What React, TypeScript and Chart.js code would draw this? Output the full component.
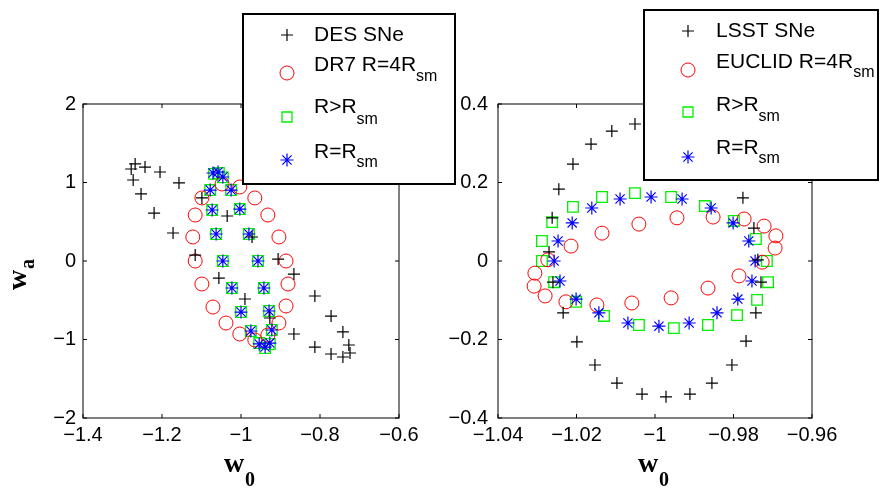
import React, { useEffect, useRef } from 'react';
import { Chart, registerables } from 'chart.js';

Chart.register(...registerables);

// ---------- Left panel: DES SNe / DR7 ----------
const desW0 = [-1.278, -1.268, -1.243, -1.205, -1.273, -1.157, -1.253, -1.22, -1.172, -1.099, -1.035, -0.972, -1.116, -0.906, -1.056, -0.866, -0.99, -0.927, -0.866, -0.813, -0.772, -0.742, -0.813, -0.727, -0.772, -0.742, -0.724];
const desWa = [1.172, 1.236, 1.197, 1.134, 1.032, 0.994, 0.854, 0.611, 0.357, 0.803, 0.573, 0.306, 0.076, 0.025, -0.217, -0.166, -0.484, -0.726, -0.93, -0.446, -0.701, -0.904, -1.096, -1.07, -1.185, -1.223, -1.172];

const dr7W0 = [-1.099, -1.048, -1.003, -0.965, -1.116, -0.932, -1.122, -0.904, -1.116, -0.886, -1.099, -0.881, -1.071, -0.886, -1.038, -0.904, -1.003, -0.932, -0.965];
const dr7Wa = [0.803, 0.981, 0.943, 0.803, 0.586, 0.586, 0.306, 0.306, 0, 0, -0.293, -0.293, -0.586, -0.573, -0.79, -0.79, -0.93, -0.943, -1.006];

const dr7GtW0 = [-1.068, -1.056, -1.046, -1.078, -1.025, -1.073, -1.003, -1.063, -0.98, -1.046, -0.957, -1.023, -0.942, -1.0, -0.929, -0.975, -0.922, -0.954, -0.939, -0.927];
const dr7GtWa = [1.11, 1.121, 1.065, 0.904, 0.904, 0.65, 0.662, 0.344, 0.344, 0, 0, -0.344, -0.344, -0.65, -0.637, -0.892, -0.879, -1.045, -1.108, -1.057];

const dr7EqW0 = [-1.071, -1.058, -1.046, -1.078, -1.025, -1.073, -1.003, -1.063, -0.98, -1.046, -0.957, -1.023, -0.942, -1.0, -0.929, -0.975, -0.922, -0.954, -0.939, -0.927];
const dr7EqWa = [1.121, 1.134, 1.07, 0.904, 0.904, 0.65, 0.662, 0.344, 0.344, 0, 0, -0.344, -0.344, -0.65, -0.637, -0.892, -0.879, -1.057, -1.096, -1.045];

// ---------- Right panel: LSST SNe / EUCLID ----------
const lsstW0 = [-1.027, -1.0262, -1.0245, -1.0209, -1.0163, -1.011, -1.0051, -0.9987, -0.9924, -0.9868, -0.9819, -0.9776, -0.9748, -0.9738, -0.973, -0.9743, -0.9768, -0.9804, -0.9855, -0.9911, -0.9972, -1.0033, -1.0097, -1.0153, -1.0199, -1.0234, -1.026];
const lsstWa = [0.023, 0.11, 0.183, 0.247, 0.298, 0.331, 0.349, 0.354, 0.339, 0.308, 0.268, 0.161, 0.084, 0.003, -0.054, -0.132, -0.204, -0.265, -0.311, -0.339, -0.346, -0.339, -0.311, -0.265, -0.206, -0.132, -0.054];

const euclidW0 = [-1.0308, -1.0306, -1.0273, -1.0214, -1.0135, -1.0041, -0.9944, -0.9852, -0.9773, -0.9722, -0.9692, -0.9694, -0.9727, -0.9786, -0.9865, -0.9959, -1.0059, -1.0148, -1.0227, -1.028];
const euclidWa = [-0.064, -0.031, 0.003, 0.038, 0.071, 0.094, 0.11, 0.112, 0.107, 0.089, 0.064, 0.033, -0.003, -0.038, -0.069, -0.094, -0.107, -0.112, -0.104, -0.089];

const euGtW0 = [-1.0288, -1.0288, -1.0262, -1.0209, -1.0135, -1.0051, -0.9959, -0.9873, -0.9799, -0.9743, -0.9715, -0.9712, -0.974, -0.9791, -0.9865, -0.9952, -1.0041, -1.013, -1.0201, -1.0257];
const euGtWa = [0, 0.051, 0.099, 0.138, 0.163, 0.173, 0.163, 0.14, 0.102, 0.056, 0, -0.054, -0.099, -0.138, -0.163, -0.171, -0.163, -0.14, -0.104, -0.054];

const euEqW0 = [-1.0257, -1.0247, -1.0211, -1.0161, -1.0089, -1.001, -0.9931, -0.9857, -0.9801, -0.9761, -0.9745, -0.9753, -0.9789, -0.9842, -0.9913, -0.999, -1.0069, -1.0143, -1.0201, -1.0242];
const euEqWa = [0, 0.051, 0.097, 0.135, 0.158, 0.163, 0.158, 0.135, 0.097, 0.051, 0, -0.051, -0.097, -0.132, -0.158, -0.166, -0.158, -0.132, -0.097, -0.051];

// ---------- Ticks ----------
const leftXTicks = [-1.4, -1.2, -1, -0.8, -0.6];
const leftXTickLabels = ['\u22121.4', '\u22121.2', '\u22121', '\u22120.8', '\u22120.6'];
const leftYTicks = [-2, -1, 0, 1, 2];
const leftYTickLabels = ['\u22122', '\u22121', '0', '1', '2'];

const rightXTicks = [-1.04, -1.02, -1, -0.98, -0.96];
const rightXTickLabels = ['\u22121.04', '\u22121.02', '\u22121', '\u22120.98', '\u22120.96'];
const rightYTicks = [-0.4, -0.2, 0, 0.2, 0.4];
const rightYTickLabels = ['\u22120.4', '\u22120.2', '0', '0.2', '0.4'];

// ---------- Legend labels ----------
const leftLegendLabels = [
  { text: 'DES SNe', sub: '' },
  { text: 'DR7 R=4R', sub: 'sm' },
  { text: 'R>R', sub: 'sm' },
  { text: 'R=R', sub: 'sm' },
];
const rightLegendLabels = [
  { text: 'LSST SNe', sub: '' },
  { text: 'EUCLID R=4R', sub: 'sm' },
  { text: 'R>R', sub: 'sm' },
  { text: 'R=R', sub: 'sm' },
];

const SANS = '"Liberation Sans", Arial, Helvetica, sans-serif';
const SERIF = '"Liberation Serif", "Times New Roman", serif';
const RED = '#ff0000';
const GREEN = '#00f000';
const BLUE = '#0000ff';

const zip = (xs: number[], ys: number[]) => xs.map((x, i) => ({ x, y: ys[i] }));

type Kind = 'plus' | 'circle' | 'square' | 'star';
const markerKinds: Kind[] = ['plus', 'circle', 'square', 'star'];

function drawMarker(ctx: CanvasRenderingContext2D, kind: Kind, x: number, y: number) {
  ctx.save();
  ctx.lineWidth = 1.2;
  ctx.beginPath();
  if (kind === 'plus') {
    ctx.strokeStyle = '#000';
    ctx.moveTo(x - 6, y); ctx.lineTo(x + 6, y);
    ctx.moveTo(x, y - 6); ctx.lineTo(x, y + 6);
  } else if (kind === 'circle') {
    ctx.strokeStyle = RED;
    ctx.lineWidth = 1;
    ctx.arc(x, y, 7, 0, Math.PI * 2);
  } else if (kind === 'square') {
    ctx.strokeStyle = GREEN;
    ctx.lineWidth = 1.3;
    ctx.rect(x - 5, y - 5, 10, 10);
  } else {
    ctx.strokeStyle = BLUE;
    for (let k = 0; k < 4; k++) {
      const a = (k * Math.PI) / 4;
      const dx = Math.cos(a) * 6.5, dy = Math.sin(a) * 6.5;
      ctx.moveTo(x - dx, y - dy); ctx.lineTo(x + dx, y + dy);
    }
  }
  ctx.stroke();
  ctx.restore();
}

interface PanelSpec {
  xMin: number; xMax: number; yMin: number; yMax: number;
  xTicks: number[]; xLabels: string[]; yTicks: number[]; yLabels: string[];
  yAxisWidth: number; padRight: number; yPad: number;
  sets: { w0: number[]; wa: number[] }[];
  legend: { text: string; sub: string }[];
  box: { x: number; y: number; w: number; h: number; mx: number; tx: number; my: number[]; ty: number[]; sy: number[] };
  yTitle: boolean;
}

function makeConfig(spec: PanelSpec): any {
  const styles = [
    { pointStyle: 'cross', pointRadius: 6, borderColor: '#000', borderWidth: 1.2, order: 0 },
    { pointStyle: 'circle', pointRadius: 7, borderColor: RED, borderWidth: 1, order: 2 },
    { pointStyle: 'rect', pointRadius: 7.5, borderColor: GREEN, borderWidth: 1.3, order: 3 },
    { pointStyle: 'star', pointRadius: 6.5, borderColor: BLUE, borderWidth: 1.2, order: 1 },
  ];
  const datasets = spec.sets.map((s, i) => ({
    label: spec.legend[i].text + spec.legend[i].sub,
    data: zip(s.w0, s.wa),
    showLine: false,
    backgroundColor: 'rgba(0,0,0,0)',
    pointBackgroundColor: 'rgba(0,0,0,0)',
    pointBorderColor: styles[i].borderColor,
    pointBorderWidth: styles[i].borderWidth,
    ...styles[i],
    clip: false,
  }));

  const plugin = {
    id: 'matlabFrame',
    beforeDatasetsDraw(chart: any) {
      const { ctx, chartArea: a, scales } = chart;
      const xs = scales.x, ys = scales.y;
      ctx.save();
      ctx.strokeStyle = '#000';
      ctx.lineWidth = 1;
      ctx.strokeRect(a.left, a.top, a.right - a.left, a.bottom - a.top);
      ctx.beginPath();
      for (const v of spec.xTicks) {
        const px = xs.getPixelForValue(v);
        ctx.moveTo(px, a.bottom); ctx.lineTo(px, a.bottom - 4);
        ctx.moveTo(px, a.top); ctx.lineTo(px, a.top + 4);
      }
      for (const v of spec.yTicks) {
        const py = ys.getPixelForValue(v);
        ctx.moveTo(a.left, py); ctx.lineTo(a.left + 4, py);
        ctx.moveTo(a.right, py); ctx.lineTo(a.right - 4, py);
      }
      ctx.stroke();
      ctx.restore();
    },
    afterDraw(chart: any) {
      const { ctx, chartArea: a } = chart;
      const cx = (a.left + a.right) / 2;
      const cy = (a.top + a.bottom) / 2;
      ctx.save();
      ctx.fillStyle = '#000';
      // x title w_0
      ctx.textAlign = 'left';
      ctx.textBaseline = 'alphabetic';
      ctx.font = `bold 28px ${SERIF}`;
      ctx.fillText('w', cx - 17, 472);
      ctx.font = `bold 20px ${SERIF}`;
      ctx.fillText('0', cx + 4, 486);
      // y title w_a
      if (spec.yTitle) {
        ctx.save();
        ctx.translate(26, cy + 29);
        ctx.rotate(-Math.PI / 2);
        ctx.font = `bold 28px ${SERIF}`;
        ctx.fillText('w', 0, 0);
        ctx.font = `bold 20px ${SERIF}`;
        ctx.fillText('a', 21, 8);
        ctx.restore();
      }
      // legend
      const b = spec.box;
      ctx.fillStyle = '#fff';
      ctx.fillRect(b.x, b.y, b.w, b.h);
      ctx.strokeStyle = '#000';
      ctx.lineWidth = 2;
      ctx.strokeRect(b.x, b.y, b.w, b.h);
      spec.legend.forEach((item, i) => {
        drawMarker(ctx, markerKinds[i], b.mx, b.my[i]);
        ctx.fillStyle = '#000';
        ctx.textAlign = 'left';
        ctx.textBaseline = 'middle';
        ctx.font = `21px ${SANS}`;
        ctx.fillText(item.text, b.tx, b.ty[i]);
        if (item.sub) {
          const w = ctx.measureText(item.text).width;
          ctx.font = `16px ${SANS}`;
          ctx.fillText(item.sub, b.tx + w, b.sy[i]);
        }
      });
      ctx.restore();
    },
  };

  const tickFont = { family: SANS, size: 20 };
  return {
    type: 'scatter',
    data: { datasets },
    options: {
      responsive: false,
      animation: false,
      events: [],
      layout: { padding: { left: 0, right: spec.padRight, top: 104, bottom: 0 } },
      plugins: { legend: { display: false }, tooltip: { enabled: false } },
      scales: {
        x: {
          type: 'linear',
          min: spec.xMin,
          max: spec.xMax,
          afterBuildTicks: (s: any) => { s.ticks = spec.xTicks.map((v) => ({ value: v })); },
          afterFit: (s: any) => { s.height = 71; },
          ticks: {
            callback: (_v: any, i: number) => spec.xLabels[i],
            font: tickFont, color: '#000', padding: 5, maxRotation: 0, autoSkip: false,
          },
          grid: { display: false, drawTicks: false, tickLength: 0 },
          border: { display: false },
        },
        y: {
          type: 'linear',
          min: spec.yMin,
          max: spec.yMax,
          afterBuildTicks: (s: any) => { s.ticks = spec.yTicks.map((v) => ({ value: v })); },
          afterFit: (s: any) => { s.width = spec.yAxisWidth; },
          ticks: {
            callback: (_v: any, i: number) => spec.yLabels[i],
            font: tickFont, color: '#000', padding: spec.yPad, autoSkip: false,
          },
          grid: { display: false, drawTicks: false, tickLength: 0 },
          border: { display: false },
        },
      },
    },
    plugins: [plugin],
  };
}

const leftSpec: PanelSpec = {
  xMin: -1.4, xMax: -0.6, yMin: -2, yMax: 2,
  xTicks: leftXTicks, xLabels: leftXTickLabels, yTicks: leftYTicks, yLabels: leftYTickLabels,
  yAxisWidth: 83, padRight: 71, yPad: 7,
  sets: [
    { w0: desW0, wa: desWa },
    { w0: dr7W0, wa: dr7Wa },
    { w0: dr7GtW0, wa: dr7GtWa },
    { w0: dr7EqW0, wa: dr7EqWa },
  ],
  legend: leftLegendLabels,
  box: { x: 243, y: 14, w: 212, h: 170, mx: 287, tx: 314, my: [35, 73, 117, 160], ty: [35, 65, 107, 152], sy: [0, 77, 120, 163] },
  yTitle: true,
};

const rightSpec: PanelSpec = {
  xMin: -1.04, xMax: -0.96, yMin: -0.4, yMax: 0.4,
  xTicks: rightXTicks, xLabels: rightXTickLabels, yTicks: rightYTicks, yLabels: rightYTickLabels,
  yAxisWidth: 58, padRight: 68, yPad: 10,
  sets: [
    { w0: lsstW0, wa: lsstWa },
    { w0: euclidW0, wa: euclidWa },
    { w0: euGtW0, wa: euGtWa },
    { w0: euEqW0, wa: euEqWa },
  ],
  legend: rightLegendLabels,
  box: { x: 204, y: 10, w: 234, h: 170, mx: 248, tx: 276, my: [31, 70, 112, 157], ty: [31, 62, 105, 148], sy: [0, 73, 117, 159] },
  yTitle: false,
};

export default function App() {
  const leftRef = useRef<HTMLCanvasElement>(null);
  const rightRef = useRef<HTMLCanvasElement>(null);
  useEffect(() => {
    const c1 = new Chart(leftRef.current as HTMLCanvasElement, makeConfig(leftSpec));
    const c2 = new Chart(rightRef.current as HTMLCanvasElement, makeConfig(rightSpec));
    return () => { c1.destroy(); c2.destroy(); };
  }, []);
  return (
    <div style={{ position: 'absolute', left: 0, top: 0, width: 880, height: 489, background: '#fff', overflow: 'hidden' }}>
      <canvas ref={leftRef} width={470} height={489} style={{ position: 'absolute', left: 0, top: 0, width: 470, height: 489 }} />
      <canvas ref={rightRef} width={440} height={489} style={{ position: 'absolute', left: 440, top: 0, width: 440, height: 489 }} />
    </div>
  );
}
